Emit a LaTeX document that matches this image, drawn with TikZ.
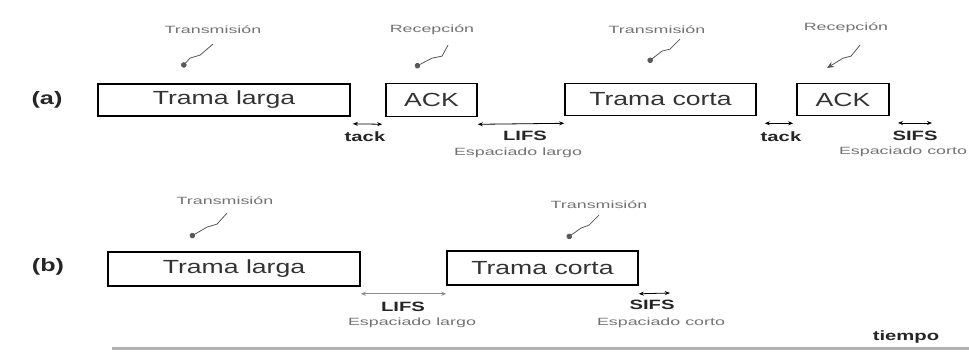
\documentclass[tikz,border=0pt]{standalone}
\usepackage{fontspec}
\setmainfont{Liberation Sans}
\newfontfamily\boxfont[FakeStretch=1.4]{Liberation Sans}
\newfontfamily\notefont[FakeStretch=1.7]{Liberation Sans}
\newfontfamily\gapfont[FakeStretch=1.5]{Liberation Sans}
\usetikzlibrary{arrows.meta}
\begin{document}
\begin{tikzpicture}[x=1pt,y=-1pt,
  frame/.style={draw, line width=1.6pt, inner sep=0pt, font=\boxfont\fontsize{19}{21}\selectfont, text=black!80},
  note/.style={font=\notefont\fontsize{10.5}{11}\selectfont, text=black!55, inner sep=0pt},
  gap/.style={font=\gapfont\bfseries\fontsize{13.5}{14}\selectfont, text=black!85, inner sep=0pt},
  tag/.style={font=\boxfont\bfseries\fontsize{18}{20}\selectfont, text=black!85, inner sep=0pt},
  dim/.style={{Stealth[length=5pt,width=4pt]}-{Stealth[length=5pt,width=4pt]}, line width=0.8pt},
  squig/.style={line width=0.8pt, draw=black!65, -{Circle[length=5.5pt]}},
  squigarrow/.style={line width=0.8pt, draw=black!65, -{Stealth[length=7pt,width=6pt]}},
  axisline/.style={line width=3pt, draw=black!30}]
\useasboundingbox[fill=white] (0,0) rectangle (969,352);

% ---- row (a)
\node[tag] (la) at (47,100) {(a)};
\node[frame, minimum width=252pt, minimum height=32pt] (aL) at (224,100) {Trama larga};
\node[frame, minimum width=91pt, minimum height=33pt] (aK1) at (431.5,100) {ACK};
\node[frame, minimum width=191pt, minimum height=32pt] (aC) at (660.5,99.5) {Trama corta};
\node[frame, minimum width=92pt, minimum height=32pt] (aK2) at (843,99.5) {ACK};

\node[note] (n1) at (213,30) {Transmisión};
\node[note] (n2) at (432,30) {Recepción};
\node[note] (n3) at (657,30) {Transmisión};
\node[note] (n4) at (846,28) {Recepción};

\coordinate (d1) at (182,67);
\coordinate (d2) at (415,67);
\coordinate (d3) at (648,62);
\coordinate (d4) at (827,68);
\draw[squig] ([yshift=-10pt]n1.south) -- ++(-13,11) -- ++(-10,3) -- (d1);
\draw[squig] ([xshift=16pt,yshift=-10pt]n2.south) -- ++(-6,11) -- ++(-10,2) -- (d2);
\draw[squig] ([xshift=23pt,yshift=-5pt]n3.south) -- ++(-10,10) -- ++(-8,2) -- (d3);
\draw[squigarrow] ([xshift=14pt,yshift=-12pt]n4.south) -- ++(-9,11) -- ++(-8,2) -- (d4);

\draw[dim, shorten <=2pt, shorten >=3pt] ([yshift=-7pt]aL.south east) -- ([yshift=-7pt]aK1.south west);
\draw[dim] ([yshift=-7pt]aK1.south east) -- ([yshift=-7pt]aC.south west);
\draw[dim, shorten <=8pt, shorten >=3pt] ([yshift=-7pt]aC.south east) -- ([yshift=-7pt]aK2.south west);
\coordinate (s1) at (898,123);
\coordinate (s2) at (932,123);
\draw[dim] (s1) -- (s2);

\node[gap] (t1) at (365,137) {tack};
\node[gap] (t2) at (525,136) {LIFS};
\node[note] (e1) at (518,153) {Espaciado largo};
\node[gap] (t3) at (781,137) {tack};
\node[gap] (t4) at (915,136) {SIFS};
\node[note] (e2) at (903,152) {Espaciado corto};

% ---- row (b)
\node[tag] (lb) at (48,267) {(b)};
\node[frame, minimum width=252pt, minimum height=34pt] (bL) at (234,269) {Trama larga};
\node[frame, minimum width=191pt, minimum height=34pt] (bC) at (542.5,268) {Trama corta};

\node[note] (n5) at (225,201) {Transmisión};
\node[note] (n6) at (599,205) {Transmisión};
\coordinate (d5) at (190,237);
\coordinate (d6) at (567,238);
\draw[squig] ([xshift=2pt,yshift=-8pt]n5.south) -- ++(-10,11) -- ++(-10,3) -- (d5);
\draw[squig] ([yshift=-6pt]n6.south) -- ++(-10,10) -- ++(-8,3) -- (d6);

\draw[dim, draw=black!45] ([yshift=-7pt]bL.south east) -- ([yshift=-8pt]bC.south west);
\coordinate (s3) at (670,293);
\draw[dim] ([yshift=-8pt]bC.south east) -- (s3);

\node[gap] (t5) at (403,307) {LIFS};
\node[note] (e3) at (412,323) {Espaciado largo};
\node[gap] (t6) at (652,305) {SIFS};
\node[note] (e4) at (661,323) {Espaciado corto};

\node[gap] (tiempo) at (906,337) {tiempo};
\coordinate (x0) at (112,349);
\coordinate (x1) at (969,349);
\draw[axisline] (x0) -- (x1);
\end{tikzpicture}
\end{document}
